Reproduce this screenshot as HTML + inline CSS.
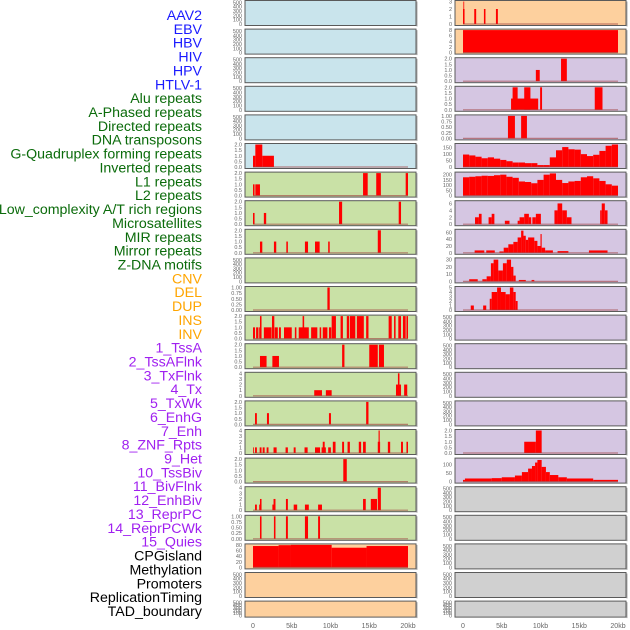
<!DOCTYPE html>
<html><head><meta charset="utf-8"><style>
html,body{margin:0;padding:0;background:#fff;width:630px;height:630px;overflow:hidden}
svg{display:block}
</style></head><body>
<svg id="chart" width="630" height="630" viewBox="0 0 630 630" xmlns="http://www.w3.org/2000/svg" font-family="Liberation Sans, sans-serif"></svg>
<script>
// ---- data ----
const trackLabels = ["AAV2","EBV","HBV","HIV","HPV","HTLV-1","Alu repeats","A-Phased repeats","Directed repeats","DNA transposons","G-Quadruplex forming repeats","Inverted repeats","L1 repeats","L2 repeats","Low_complexity A/T rich regions","Microsatellites","MIR repeats","Mirror repeats","Z-DNA motifs","CNV","DEL","DUP","INS","INV","1_TssA","2_TssAFlnk","3_TxFlnk","4_Tx","5_TxWk","6_EnhG","7_Enh","8_ZNF_Rpts","9_Het","10_TssBiv","11_BivFlnk","12_EnhBiv","13_ReprPC","14_ReprPCWk","15_Quies","CPGisland","Methylation","Promoters","ReplicationTiming","TAD_boundary"];
const labelGroups = ["virus","virus","virus","virus","virus","virus","repeat","repeat","repeat","repeat","repeat","repeat","repeat","repeat","repeat","repeat","repeat","repeat","repeat","sv","sv","sv","sv","sv","chrom","chrom","chrom","chrom","chrom","chrom","chrom","chrom","chrom","chrom","chrom","chrom","chrom","chrom","chrom","other","other","other","other","other"];
const xTickValues = [0,5,10,15,20];
const xTickLabels = ["0","5kb","10kb","15kb","20kb"];
const emptyTicks = [0,100,200,300,400,500];
const ticks2 = [0,0.5,1,1.5,2];
const ticks1 = [0,0.25,0.5,0.75,1];
const ticks4 = [0,1,2,3,4];

// left column bars [startKb, endKb, value]
const leftGQuad = [[0,0.3,1],[0.3,1.2,2],[1.2,2.7,1]];
const leftInverted = [[0,0.2,1],[0.3,0.9,1],[14.2,14.8,2],[15.9,16.5,2],[19.7,20,2]];
const leftL1 = [[0,0.2,1],[1.4,1.7,1],[11.1,11.5,2],[18.8,19.1,2]];
const leftL2 = [[0.9,1.2,1],[2.7,3,1],[4.3,4.5,1],[6.7,7.1,1],[8,8.6,1],[9.7,9.9,1],[16.1,16.5,2]];
const leftMicro = [[9.6,9.9,1]];
const leftMIR = [[0,0.26,1],[0.4,0.7,1],[0.8,1.1,1],[0.9,1.1,2],[1.4,2.4,1],[2.45,2.75,2],[2.8,3.2,1],[3.35,3.6,1],[4,5,1],[5.4,5.6,1],[5.9,7.2,1],[6.4,6.6,2],[7.5,8.3,1],[8.6,8.8,1],[9,9.6,1],[9.8,10.1,1],[10.15,10.7,2],[11.3,11.6,2],[12.1,12.4,2],[12.5,13.2,2],[13.4,14.3,2],[14.6,14.9,2],[17.5,17.9,2],[18.2,18.4,2],[18.75,19.1,2],[19.35,19.7,2],[19.8,20,2]];
const leftMirror = [[0.9,1.75,1],[2.5,3.35,1],[11.5,11.8,2],[15,16.1,2],[16.25,16.9,2]];
const leftZDNA = [[7.9,8.9,1],[9.4,10.15,1],[18.45,19.1,2],[18.7,18.9,4],[19.5,19.9,2]];
const leftCNV = [[0.26,0.5,1],[1.8,2.06,1],[9.8,10.06,1],[14.6,14.9,2]];
const leftDEL = [[0,0.1,1],[0.26,0.5,1],[0.86,1.1,1],[1.25,1.5,1],[1.76,2,1],[2.65,3.05,1],[4.2,4.5,1],[5.25,5.5,1],[6.65,7.05,1],[8,8.65,1],[8.85,9.4,1],[9,9.25,2],[9.7,10.05,1],[10.3,10.65,2],[11.5,11.75,2],[12.2,12.5,2],[13.65,13.95,2],[14.2,14.55,2],[16.1,16.4,2],[16.2,16.35,4],[17.4,17.7,2],[19.1,19.35,2],[19.8,20,2]];
const leftDUP = [[11.65,12.1,2]];
const leftINS = [[0.26,0.5,1],[0.8,1.1,1],[0.9,1.1,2],[2.5,2.9,1],[2.65,2.9,2],[4.25,4.5,2],[5.25,5.7,1],[6.7,7.2,1],[8.4,8.9,1],[14.2,14.55,2],[15.2,16,2],[16.1,16.5,4]];
const leftINV = [[0.9,1.1,1],[2.7,2.9,1],[4.25,4.5,1],[6.7,7.1,1],[8.4,8.65,1]];
const leftCpG = [[0,3.3,76],[3.3,4.9,79],[4.9,10.15,80],[10.15,14.65,70],[14.65,20,76]];

// right column bars
const rightAAV2 = [[0,0.2,2],[0.05,0.15,3],[1.45,1.7,2],[2.7,2.9,2],[4.25,4.5,2]];
const rightEBV = [[0,20,8]];
const rightHBV = [[9.4,9.9,1],[12.65,13.4,2]];
const rightHIV = [[6.2,9.7,1],[6.4,7.05,2],[7.9,8.7,2],[9.95,10.2,2],[17,18,2]];
const rightHPV = [[5.8,6.7,1],[7.5,8.25,1]];
const binWidthKb = 0.8;
const rightHTLVBins = [97,90,80,68,75,65,55,45,35,35,30,30,15,15,75,130,155,138,135,100,85,95,125,165,175];
const rightAluBins = [175,180,185,190,188,195,200,180,170,135,130,118,150,200,212,150,120,135,140,175,185,165,140,108,95];
const rightAPhased = [[1.55,2.05,2],[2.05,2.4,3],[3.3,3.7,2],[3.7,4.05,3],[5.4,6,1],[7.05,7.3,1],[7.3,7.9,2],[7.9,8.5,3],[8.5,8.8,2],[8.95,9.4,2],[9.4,10.05,3],[11.8,12.2,4],[12.2,12.8,6],[12.8,13.4,4],[13.4,14,2],[17.7,17.9,4],[17.9,18.3,6],[18.3,18.65,4]];
const rightDirected = [[1.5,2.75,7],[3,4.1,7],[4.7,5.25,4],[5.25,5.85,15],[5.85,6.5,25],[6.5,7.05,32],[7.05,7.5,45],[7.5,7.8,65],[7.8,8.1,50],[8.1,8.4,38],[8.4,9.2,45],[9.2,9.6,35],[9.6,10,20],[10,10.15,55],[10.15,10.6,15],[10.6,11.6,7],[12.2,13.6,5],[16.25,18.65,7]];
const rightDNAT = [[0.8,1.9,3],[2.5,3.05,3],[3.05,3.6,7],[3.6,3.95,25],[3.95,4.55,30],[4.55,5.15,15],[5.15,5.65,25],[5.65,6.2,30],[6.2,6.5,20],[6.5,6.8,8],[7.2,8.1,2],[8.85,9.2,2]];
const rightGQuad = [[1,1.4,1],[2.6,3,1],[3.45,3.7,2.5],[3.7,4.4,4],[4.4,4.9,5],[4.9,5.5,4],[5.5,6.05,3.5],[6.05,6.5,5],[6.5,6.8,4],[6.8,7.05,2]];
const rightMirror = [[7.9,9.4,1],[9.4,10.15,2]];
const rightZDNA = [[0,0.25,10],[0.25,3.7,18],[3.7,5,20],[5,6.7,25],[6.7,7.6,35],[7.6,8.4,55],[8.4,8.9,75],[8.9,9.3,90],[9.3,9.6,110],[9.6,10.15,125],[10.15,10.7,85],[10.7,11.2,55],[11.2,12.3,38],[12.3,13.4,25],[13.4,16.8,18],[16.8,20,10]];

// ---- panel layout ----
const svg = document.getElementById('chart');
const NS = 'http://www.w3.org/2000/svg';
function mk(tag, attrs, parent){const e=document.createElementNS(NS,tag);for(const k in attrs)e.setAttribute(k,attrs[k]);(parent||svg).appendChild(e);return e;}
function binsToBars(bins){return bins.map((v,i)=>[i*binWidthKb,(i+1)*binWidthKb,v]);}

const BLUE='#c9e4ec', GREEN='#c9e1a6', PEACH='#fdd09e', LAV='#d5c6e2', GRAY='#d0d0d0';
const leftPanels = [
 {name:'AAV2',bg:BLUE,bars:[],ymax:520,ticks:emptyTicks},
 {name:'EBV',bg:BLUE,bars:[],ymax:520,ticks:emptyTicks},
 {name:'HBV',bg:BLUE,bars:[],ymax:520,ticks:emptyTicks},
 {name:'HIV',bg:BLUE,bars:[],ymax:520,ticks:emptyTicks},
 {name:'HPV',bg:BLUE,bars:[],ymax:520,ticks:emptyTicks},
 {name:'G-Quadruplex',bg:BLUE,bars:leftGQuad,ymax:2,ticks:ticks2},
 {name:'Inverted',bg:GREEN,bars:leftInverted,ymax:2,ticks:ticks2},
 {name:'L1',bg:GREEN,bars:leftL1,ymax:2,ticks:ticks2},
 {name:'L2',bg:GREEN,bars:leftL2,ymax:2,ticks:ticks2},
 {name:'Low-complexity',bg:GREEN,bars:[],ymax:520,ticks:emptyTicks},
 {name:'Microsatellites',bg:GREEN,bars:leftMicro,ymax:1,ticks:ticks1},
 {name:'MIR',bg:GREEN,bars:leftMIR,ymax:2,ticks:ticks2},
 {name:'Mirror',bg:GREEN,bars:leftMirror,ymax:2,ticks:ticks2},
 {name:'Z-DNA',bg:GREEN,bars:leftZDNA,ymax:4,ticks:ticks4},
 {name:'CNV',bg:GREEN,bars:leftCNV,ymax:2,ticks:ticks2},
 {name:'DEL',bg:GREEN,bars:leftDEL,ymax:4,ticks:ticks4},
 {name:'DUP',bg:GREEN,bars:leftDUP,ymax:2,ticks:ticks2},
 {name:'INS',bg:GREEN,bars:leftINS,ymax:4,ticks:ticks4},
 {name:'INV',bg:GREEN,bars:leftINV,ymax:1,ticks:ticks1},
 {name:'CPGisland',bg:PEACH,bars:leftCpG,ymax:80,ticks:[0,20,40,60,80]},
 {name:'Methylation',bg:PEACH,bars:[],ymax:520,ticks:emptyTicks},
 {name:'TAD',bg:PEACH,bars:[],ymax:520,ticks:emptyTicks}
];
const rightPanels = [
 {name:'AAV2',bg:PEACH,bars:rightAAV2,ymax:3,ticks:[0,1,2,3]},
 {name:'EBV',bg:PEACH,bars:rightEBV,ymax:8,ticks:[0,2,4,6,8]},
 {name:'HBV',bg:LAV,bars:rightHBV,ymax:2,ticks:ticks2},
 {name:'HIV',bg:LAV,bars:rightHIV,ymax:2,ticks:ticks2},
 {name:'HPV',bg:LAV,bars:rightHPV,ymax:1,ticks:ticks1},
 {name:'HTLV',bg:LAV,bars:binsToBars(rightHTLVBins),ymax:175,ticks:[0,50,100,150]},
 {name:'Alu',bg:LAV,bars:binsToBars(rightAluBins),ymax:215,ticks:[0,50,100,150,200]},
 {name:'A-Phased',bg:LAV,bars:rightAPhased,ymax:6.5,ticks:[0,2,4,6]},
 {name:'Directed',bg:LAV,bars:rightDirected,ymax:66,ticks:[0,20,40,60]},
 {name:'DNA-transposons',bg:LAV,bars:rightDNAT,ymax:31,ticks:[0,10,20,30]},
 {name:'G-Quadruplex',bg:LAV,bars:rightGQuad,ymax:5,ticks:[0,1,2,3,4,5]},
 {name:'empty-1',bg:LAV,bars:[],ymax:520,ticks:emptyTicks},
 {name:'empty-2',bg:LAV,bars:[],ymax:520,ticks:emptyTicks},
 {name:'empty-3',bg:LAV,bars:[],ymax:520,ticks:emptyTicks},
 {name:'empty-4',bg:LAV,bars:[],ymax:520,ticks:emptyTicks},
 {name:'Mirror',bg:LAV,bars:rightMirror,ymax:2,ticks:ticks2},
 {name:'Z-DNA',bg:LAV,bars:rightZDNA,ymax:130,ticks:[0,50,100]},
 {name:'gray-1',bg:GRAY,bars:[],ymax:520,ticks:emptyTicks},
 {name:'gray-2',bg:GRAY,bars:[],ymax:520,ticks:emptyTicks},
 {name:'gray-3',bg:GRAY,bars:[],ymax:520,ticks:emptyTicks},
 {name:'gray-4',bg:GRAY,bars:[],ymax:520,ticks:emptyTicks},
 {name:'gray-5',bg:GRAY,bars:[],ymax:520,ticks:emptyTicks}
];

const cols = [{x0:245,x1:416,k0:253,k20:408,panels:leftPanels,side:'left'},{x0:455,x1:626,k0:463,k20:618,panels:rightPanels,side:'right'}];
function fmt(v, ticks){if(ticks.some(t=>t%1!==0)){const dec=ticks.some(t=>Math.round(t*100)%50!==0)?2:1;return v.toFixed(dec);}return String(v);}

cols.forEach(col=>{
  const xs = kb => col.k0 + (kb/20)*(col.k20-col.k0);
  col.panels.forEach((p,i)=>{
    const top = 0.5 + i*28.6;
    const h = i===21 ? 16 : 25;
    const bottom = top + h;
    const yb = bottom - 1.5, yt = top + 1;
    const ys = v => yb - (v/p.ymax)*(yb-yt);
    const g = mk('g',{});
    
    
    mk('rect',{x:col.x0,y:top,width:col.x1-col.x0,height:h,fill:p.bg},g);
    p.bars.forEach(b=>{
      const r = mk('rect',{x:xs(b[0]),y:ys(b[2]),width:Math.max(0.8,xs(b[1])-xs(b[0])),height:yb-ys(b[2]),fill:'#ff0000'},g);
      
      
    });
    if(p.bars.length) mk('line',{x1:xs(0),x2:xs(20),y1:yb,y2:yb,stroke:'#a04040','stroke-width':1.2,opacity:0.6},g);
    mk('rect',{x:col.x0,y:top,width:col.x1-col.x0,height:h,fill:'none',stroke:'#5a5a5a','stroke-width':1},g);
    mk('line',{x1:col.x1+1,x2:col.x1+1,y1:top+1,y2:bottom+1,stroke:'#aaa','stroke-width':1},g);
    p.ticks.forEach(t=>{
      const tx = mk('text',{x:col.x0-3,y:ys(t)+2,'font-size':5.5,fill:'#666','text-anchor':'end'},g);
      tx.textContent = fmt(t,p.ticks);
      
      
    });
  });
  xTickValues.forEach((v,j)=>{
    const t = mk('text',{x:xs(v),y:628,'font-size':7,fill:'#666','text-anchor':'middle'});
    t.textContent = xTickLabels[j];
    
    
  });
});

const groupColors = {virus:'#1a1aff',repeat:'#0b6b0b',sv:'#ffa500',chrom:'#a020f0',other:'#000000'};
trackLabels.forEach((lab,i)=>{
  const t = mk('text',{x:202,y:20+i*13.86,'font-size':14.2,fill:groupColors[labelGroups[i]],'text-anchor':'end'});
  t.textContent = lab;
  
  
});
</script>
</body></html>
